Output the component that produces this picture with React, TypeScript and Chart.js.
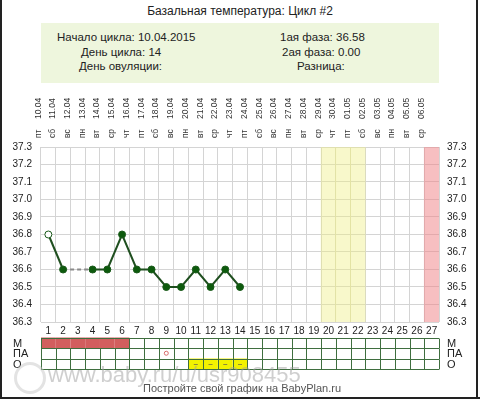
import React, { useEffect, useRef } from 'react';
import { Chart, registerables } from 'chart.js';

Chart.register(...registerables);

const FONT = '"Liberation Sans", Arial, sans-serif';

const dayLabels = ['1', '2', '3', '4', '5', '6', '7', '8', '9', '10', '11', '12', '13', '14', '15', '16', '17', '18', '19', '20', '21', '22', '23', '24', '25', '26', '27'];
const weekdays = ['пт', 'сб', 'вс', 'пн', 'вт', 'ср', 'чт', 'пт', 'сб', 'вс', 'пн', 'вт', 'ср', 'чт', 'пт', 'сб', 'вс', 'пн', 'вт', 'ср', 'чт', 'пт', 'сб', 'вс', 'пн', 'вт', 'ср'];
const dates = ['10.04', '11.04', '12.04', '13.04', '14.04', '15.04', '16.04', '17.04', '18.04', '19.04', '20.04', '21.04', '22.04', '23.04', '24.04', '25.04', '26.04', '27.04', '28.04', '29.04', '30.04', '01.05', '02.05', '03.05', '04.05', '05.05', '06.05'];
const temperatures: (number | null)[] = [36.8, 36.6, null, 36.6, 36.6, 36.8, 36.6, 36.6, 36.5, 36.5, 36.6, 36.5, 36.6, 36.5, null, null, null, null, null, null, null, null, null, null, null, null, null];
const openPointDays = [1];
const yellowBandDays = [20, 21, 22];
const pinkBandDays = [27];
const mensDays = [1, 2, 3, 4, 5, 6];
const paDays = [9];
const oDays = [11, 12, 13, 14];
const rowLabels = ['М', 'ПА', 'О'];
const yMin = 36.3;
const yMax = 37.3;
const yStep = 0.1;

const bandValues = dayLabels.map((_, i) =>
  yellowBandDays.includes(i + 1) || pinkBandDays.includes(i + 1) ? 1 : null
);
const bandColors = dayLabels.map((_, i) =>
  pinkBandDays.includes(i + 1) ? 'rgba(240,128,132,0.5)' : 'rgba(238,238,130,0.42)'
);
const pointFills = dayLabels.map((_, i) => (openPointDays.includes(i + 1) ? '#ffffff' : '#0d5a0d'));

const tablePlugin = {
  id: 'cycleTable',
  afterDraw(chart: any) {
    const { ctx, chartArea } = chart;
    const x = chart.scales.x;
    const n = dayLabels.length;
    const colW = x.getPixelForValue(1) - x.getPixelForValue(0);
    const cellLeft = (i: number) => x.getPixelForValue(i) - colW / 2;
    const top = chartArea.bottom + 15.5;
    const rh = 10.5;
    const rowY = (r: number) => top + r * rh;
    ctx.save();
    ctx.fillStyle = '#d25e5e';
    mensDays.forEach((d) => ctx.fillRect(cellLeft(d - 1), rowY(0), colW, rh));
    ctx.fillStyle = '#f2f200';
    oDays.forEach((d) => ctx.fillRect(cellLeft(d - 1), rowY(2), colW, rh));
    ctx.strokeStyle = '#3f6e3f';
    ctx.lineWidth = 1;
    ctx.beginPath();
    for (let r = 0; r <= 3; r++) {
      const yy = Math.round(rowY(r)) + 0.5;
      ctx.moveTo(chartArea.left, yy);
      ctx.lineTo(chartArea.right, yy);
    }
    for (let b = 0; b <= n; b++) {
      const xx = Math.round(chartArea.left + b * colW) + 0.5;
      for (let r = 0; r < 3; r++) {
        if (r === 0 && b > 0 && b < n && mensDays.includes(b) && mensDays.includes(b + 1)) continue;
        ctx.moveTo(xx, Math.round(rowY(r)) + 0.5);
        ctx.lineTo(xx, Math.round(rowY(r + 1)) + 0.5);
      }
    }
    ctx.stroke();
    ctx.strokeStyle = '#d86a6a';
    paDays.forEach((d) => {
      ctx.beginPath();
      ctx.arc(x.getPixelForValue(d - 1), rowY(1) + rh / 2, 2, 0, Math.PI * 2);
      ctx.stroke();
    });
    ctx.strokeStyle = '#8c8a3a';
    ctx.beginPath();
    oDays.forEach((d) => {
      const cx = x.getPixelForValue(d - 1);
      const cy = Math.round(rowY(2) + rh / 2) + 0.5;
      ctx.moveTo(cx - 2, cy);
      ctx.lineTo(cx + 2, cy);
    });
    ctx.stroke();
    ctx.fillStyle = '#222';
    ctx.font = '11px ' + FONT;
    ctx.textBaseline = 'middle';
    ctx.textAlign = 'left';
    rowLabels.forEach((lab, r) => {
      ctx.fillText(lab, 13, rowY(r) + rh / 2 + 1);
      ctx.fillText(lab, chartArea.right + 8, rowY(r) + rh / 2 + 1);
    });
    ctx.restore();
  },
};

export default function App() {
  const ref = useRef<HTMLCanvasElement>(null);

  useEffect(() => {
    if (!ref.current) return;
    Chart.defaults.font.family = FONT;
    const chart = new Chart(ref.current, {
      type: 'line',
      data: {
        labels: dayLabels,
        datasets: [
          {
            type: 'line',
            data: temperatures,
            xAxisID: 'x',
            yAxisID: 'y',
            borderColor: '#1f4f1f',
            borderWidth: 2,
            tension: 0,
            spanGaps: true,
            pointRadius: 3.5,
            pointBorderWidth: 1,
            pointBackgroundColor: pointFills,
            pointBorderColor: '#1a5a1a',
            order: 1,
            segment: {
              borderColor: (c: any) => (c.p0.skip || c.p1.skip ? '#8a8a8a' : undefined),
              borderDash: (c: any) => (c.p0.skip || c.p1.skip ? [4, 3] : undefined),
            },
          } as any,
          {
            type: 'bar',
            data: bandValues,
            xAxisID: 'x',
            yAxisID: 'yBand',
            backgroundColor: bandColors,
            borderWidth: 0,
            barPercentage: 1,
            categoryPercentage: 1,
            order: 2,
          } as any,
        ],
      },
      options: {
        responsive: false,
        animation: false,
        layout: { padding: { top: 97, bottom: 59, left: 0, right: 0 } },
        plugins: { legend: { display: false }, tooltip: { enabled: false }, title: { display: false } },
        events: [],
        scales: {
          x: {
            type: 'category',
            position: 'bottom',
            offset: true,
            grid: { offset: true, color: '#d4d4d4', drawTicks: false, lineWidth: 1 },
            border: { display: false },
            ticks: { autoSkip: false, maxRotation: 0, minRotation: 0, padding: 3, font: { size: 10 }, color: '#222' },
            afterFit: (s: any) => { s.height = 18; },
          },
          xDate: {
            type: 'category',
            labels: dates,
            position: 'top',
            weight: 2,
            offset: true,
            grid: { display: false, drawTicks: false },
            border: { display: false },
            ticks: { autoSkip: false, minRotation: 90, maxRotation: 90, padding: 8, font: { size: 8.5 }, color: '#333' },
            afterFit: (s: any) => { s.height = 30; },
          },
          xDay: {
            type: 'category',
            labels: weekdays,
            position: 'top',
            weight: 1,
            offset: true,
            grid: { display: false, drawTicks: false },
            border: { display: false },
            ticks: { autoSkip: false, minRotation: 90, maxRotation: 90, padding: 9, font: { size: 8.5 }, color: '#333' },
            afterFit: (s: any) => { s.height = 20; },
          },
          y: {
            position: 'left',
            min: yMin,
            max: yMax,
            grid: { color: '#d4d4d4', drawTicks: false },
            border: { display: false },
            ticks: { stepSize: yStep, padding: 9, font: { size: 10 }, color: '#222', callback: (v: any) => Number(v).toFixed(1) },
            afterFit: (s: any) => { s.width = 41; },
          },
          yR: {
            position: 'right',
            min: yMin,
            max: yMax,
            grid: { display: false, drawTicks: false },
            border: { display: false },
            ticks: { stepSize: yStep, padding: 8, font: { size: 10 }, color: '#222', callback: (v: any) => Number(v).toFixed(1) },
            afterFit: (s: any) => { s.width = 41; },
          },
          yBand: { display: false, min: 0, max: 1 },
        } as any,
      },
      plugins: [tablePlugin],
    });
    return () => chart.destroy();
  }, []);

  const txt = (left: number, top: number, s: string, size = 11.5, color = '#222') => (
    <div style={{ position: 'absolute', left, top, fontSize: size, lineHeight: '14px', color, whiteSpace: 'nowrap' }}>{s}</div>
  );

  return (
    <div style={{ position: 'absolute', left: 0, top: 0, width: 480, height: 399, background: '#fff', overflow: 'hidden', fontFamily: FONT }}>
      <div style={{ position: 'absolute', left: 0, top: 3, width: 480, textAlign: 'center', fontSize: 12, lineHeight: '16px', color: '#222' }}>
        Базальная температура: Цикл #2
      </div>
      <div style={{ position: 'absolute', left: 41, top: 23, width: 398, height: 60, background: '#eef6dd' }} />
      {txt(57, 30, 'Начало цикла: 10.04.2015')}
      {txt(81, 45, 'День цикла: 14')}
      {txt(79, 59, 'День овуляции:')}
      {txt(280, 30, '1ая фаза: 36.58')}
      {txt(282, 45, '2ая фаза: 0.00')}
      {txt(297, 59, 'Разница:')}
      <canvas ref={ref} width={480} height={399} style={{ position: 'absolute', left: 0, top: 0, width: 480, height: 399 }} />
      <div style={{ position: 'absolute', left: 14, top: 362, width: 26, height: 26, border: '3px solid rgba(200,200,200,0.5)', borderRadius: '50%' }} />
      <div style={{ position: 'absolute', left: 48, top: 362, fontSize: 22, lineHeight: '26px', color: 'rgba(160,160,160,0.5)', whiteSpace: 'nowrap' }}>
        www.baby.ru/u/usr908455
      </div>
      <div style={{ position: 'absolute', left: 143, top: 381, fontSize: 11, lineHeight: '14px', color: '#555', whiteSpace: 'nowrap' }}>
        Постройте свой график на BabyPlan.ru
      </div>
      <div style={{ position: 'absolute', left: 0, top: 0, width: 2, height: 399, background: '#222' }} />
      <div style={{ position: 'absolute', left: 476, top: 0, width: 2, height: 399, background: '#222' }} />
      <div style={{ position: 'absolute', left: 0, top: 397, width: 480, height: 2, background: '#222' }} />
    </div>
  );
}
